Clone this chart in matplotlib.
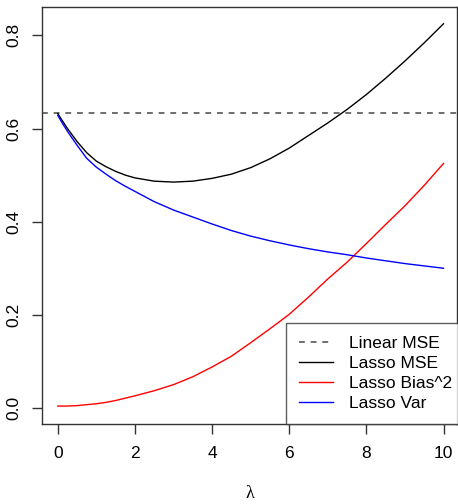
import matplotlib
matplotlib.use("Agg")
import matplotlib.pyplot as plt

plt.rcParams['font.family'] = ['Liberation Sans', 'DejaVu Sans']

lam = [0, 0.1, 0.25, 0.5, 0.75, 1.0, 1.25, 1.5, 1.75, 2.0, 2.5, 3.0, 3.5, 4.0, 4.5, 5.0,
       5.5, 6.0, 6.5, 7.0, 7.5, 8.0, 8.5, 9.0, 9.5, 10.0]
lasso_mse = [0.632, 0.619, 0.600, 0.572, 0.548, 0.530, 0.518, 0.508, 0.500, 0.494, 0.487,
             0.485, 0.487, 0.493, 0.502, 0.516, 0.535, 0.558, 0.585, 0.612, 0.641, 0.673,
             0.708, 0.745, 0.784, 0.825]
lasso_bias2 = [0.004, 0.004, 0.004, 0.005, 0.007, 0.009, 0.012, 0.016, 0.021, 0.026, 0.037,
               0.050, 0.067, 0.088, 0.111, 0.140, 0.170, 0.201, 0.238, 0.277, 0.313, 0.353,
               0.394, 0.434, 0.478, 0.525]
lasso_var = [0.628, 0.614, 0.594, 0.564, 0.536, 0.517, 0.502, 0.488, 0.476, 0.465, 0.443,
             0.425, 0.410, 0.395, 0.381, 0.369, 0.359, 0.350, 0.342, 0.335, 0.329, 0.322,
             0.316, 0.310, 0.305, 0.300]
linear_mse = 0.634

xticks = [0, 2, 4, 6, 8, 10]
yticks = [0.0, 0.2, 0.4, 0.6, 0.8]

W, H = 458, 504
fig = plt.figure(figsize=(W/100, H/100), dpi=100)
ax = fig.add_axes([42/W, (H-424)/H, (457-42)/W, (424-7)/H])

ax.axhline(linear_mse, color='#555555', ls=(0, (3.5, 3.5)), lw=1.2, label='Linear MSE')
ax.plot(lam, lasso_mse, color='black', lw=1.0, label='Lasso MSE')
ax.plot(lam, lasso_bias2, color='red', lw=1.0, label='Lasso Bias^2')
ax.plot(lam, lasso_var, color='blue', lw=1.0, label='Lasso Var')

ax.set_xlim(-0.41, 10.35)
ax.set_ylim(-0.0345, 0.861)
ax.set_xticks(xticks)
ax.set_xticklabels([str(t) for t in xticks])
ax.set_yticks(yticks)
ax.set_yticklabels([f"{t:.1f}" for t in yticks], rotation=90, va='center')
ax.tick_params(axis='both', direction='out', length=7, width=1, labelsize=12.5, color='#333333')
ax.tick_params(axis='x', pad=9)
ax.tick_params(axis='y', pad=8)
for s in ax.spines.values():
    s.set_color('#333333')
    s.set_linewidth(1.0)

ax.set_xlabel('λ', fontsize=13, labelpad=17, family=['Liberation Serif', 'DejaVu Serif'])

leg = ax.legend(loc='lower right', bbox_to_anchor=(1 + 8/415, 0), frameon=True, fancybox=False,
                borderaxespad=0, fontsize=12.5, handlelength=1.95, handletextpad=0.9,
                labelspacing=0.28, borderpad=0.75)
leg.get_frame().set_edgecolor('#333333')
leg.get_frame().set_linewidth(1.0)

fig.savefig('out.png', dpi=100)
